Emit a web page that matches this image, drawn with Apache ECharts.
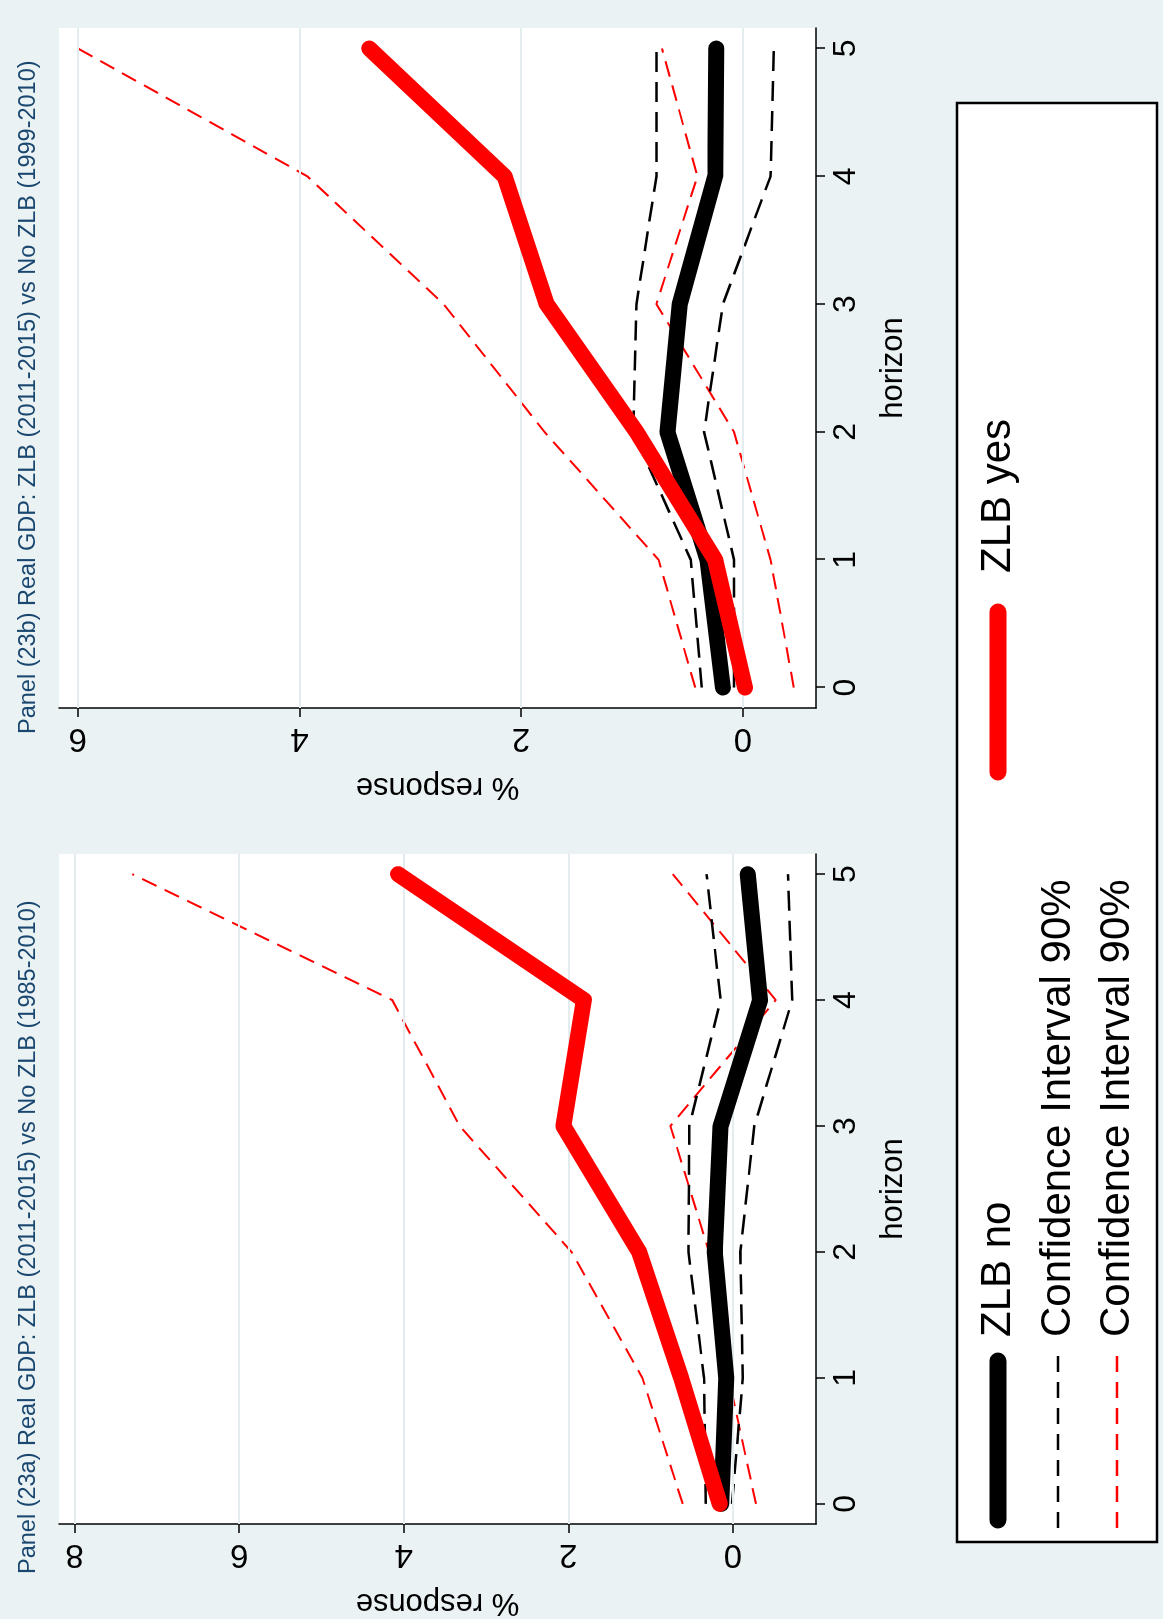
<!DOCTYPE html>
<html>
<head>
<meta charset="utf-8">
<script src="https://cdn.jsdelivr.net/npm/echarts@6/dist/echarts.min.js"></script>
<style>
  html, body { margin: 0; padding: 0; background: #eaf2f3; overflow: hidden; }
  #wrap { position: relative; width: 1163px; height: 1619px; }
  /* the chart is drawn landscape and turned a quarter turn counter-clockwise */
  #chart { position: absolute; left: 0; top: 0; width: 1619px; height: 1163px;
           transform-origin: 0 0; transform: translate(0, 1619px) rotate(-90deg); }
</style>
</head>
<body>
<div id="wrap"><div id="chart"></div></div>
<script>
// horizon
const horizon = [0, 1, 2, 3, 4, 5];

// Panel 23a: 1985-2010 sample
const aZlbYes  = [0.16, 0.63, 1.14, 2.06, 1.81, 4.07];
const aYesHigh = [0.61, 1.10, 1.96, 3.32, 4.14, 7.30];
const aYesLow  = [-0.28, 0.05, 0.29, 0.76, -0.52, 0.73];
const aZlbNo   = [0.14, 0.08, 0.22, 0.15, -0.33, -0.18];
const aNoHigh  = [0.33, 0.35, 0.54, 0.53, 0.15, 0.32];
const aNoLow   = [0.01, -0.12, -0.09, -0.26, -0.72, -0.67];

// Panel 23b: 1999-2010 sample
const bZlbYes  = [-0.02, 0.25, 0.96, 1.77, 2.15, 3.37];
const bYesHigh = [0.43, 0.76, 1.79, 2.70, 3.93, 6.00];
const bYesLow  = [-0.46, -0.25, 0.08, 0.78, 0.41, 0.73];
const bZlbNo   = [0.18, 0.32, 0.68, 0.57, 0.25, 0.24];
const bNoHigh  = [0.37, 0.47, 0.99, 0.96, 0.78, 0.78];
const bNoLow   = [0.08, 0.08, 0.35, 0.18, -0.25, -0.28];

const aTicks = [0, 2, 4, 6, 8];
const bTicks = [0, 2, 4, 6];
const xTicks = [0, 1, 2, 3, 4, 5];

const titleA = 'Panel (23a) Real GDP: ZLB (2011-2015) vs No ZLB (1985-2010)';
const titleB = 'Panel (23b) Real GDP: ZLB (2011-2015) vs No ZLB (1999-2010)';

const FONT = '"Liberation Sans", Arial, sans-serif';
const NARROW = '"Liberation Sans Narrow", "Arial Narrow", "Liberation Sans", sans-serif';

const pairs = arr => arr.map((v, i) => [horizon[i], v]);

const xAxisFor = (gi) => ({
    type: 'value', gridIndex: gi, min: -0.16, max: 5.16,
    name: 'horizon', nameLocation: 'middle', nameGap: 62,
    nameTextStyle: { fontSize: 31, color: '#000', fontFamily: FONT },
    axisLine: { onZero: false, lineStyle: { color: '#000', width: 1.5 } },
    axisTick: { show: true, length: 9, lineStyle: { color: '#000', width: 1.5 }, customValues: xTicks },
    axisLabel: { fontSize: 32, color: '#000', fontFamily: FONT, margin: 14, customValues: xTicks },
    splitLine: { show: false }
});

const yAxisFor = (gi, min, max, ticks) => ({
    type: 'value', gridIndex: gi, min: min, max: max,
    name: '% response', nameLocation: 'middle', nameGap: 63, nameRotate: 90,
    nameTextStyle: { fontSize: 31, color: '#000', fontFamily: FONT },
    axisLine: { show: true, onZero: false, lineStyle: { color: '#000', width: 1.5 } },
    axisTick: { show: true, length: 9, lineStyle: { color: '#000', width: 1.5 }, customValues: ticks },
    axisLabel: { fontSize: 33, color: '#000', fontFamily: FONT, rotate: 90, margin: 14, customValues: ticks },
    splitLine: { show: false }
});

// light grid lines drawn at the label values
const gridLines = (ticks) => ({
    silent: true, symbol: 'none', label: { show: false },
    lineStyle: { color: '#e3ecef', width: 2, type: 'solid' },
    data: ticks.map(t => ({ yAxis: t }))
});

const thick = (name, data, color, gi, marks) => ({
    name: name, type: 'line', xAxisIndex: gi, yAxisIndex: gi, data: pairs(data),
    symbol: 'none', z: 5,
    lineStyle: { color: color, width: 16, cap: 'round', join: 'round' },
    markLine: marks
});
const dashed = (data, color, gi, w, dash) => ({
    type: 'line', xAxisIndex: gi, yAxisIndex: gi, data: pairs(data), symbol: 'none', z: 3,
    lineStyle: { color: color, width: w, type: dash }
});

const chart = echarts.init(document.getElementById('chart'));

chart.setOption({
    backgroundColor: '#eaf2f3',
    animation: false,
    title: [
        { text: titleA, left: 40, top: 12, textStyle: { fontSize: 23.5, fontWeight: 'normal', color: '#1a476f', fontFamily: FONT } },
        { text: titleB, left: 880, top: 12, textStyle: { fontSize: 23.5, fontWeight: 'normal', color: '#1a476f', fontFamily: FONT } }
    ],
    grid: [
        { left: 86, top: 59, width: 679, height: 757, show: true, backgroundColor: '#fff', borderWidth: 0 },
        { left: 911, top: 59, width: 680, height: 757, show: true, backgroundColor: '#fff', borderWidth: 0 }
    ],
    xAxis: [xAxisFor(0), xAxisFor(1)],
    yAxis: [yAxisFor(0, -1.01, 8.19, aTicks), yAxisFor(1, -0.66, 6.17, bTicks)],
    series: [
        dashed(aYesHigh, '#ff0000', 0, 2, [16, 9]),
        dashed(aYesLow, '#ff0000', 0, 2, [16, 9]),
        dashed(aNoHigh, '#000', 0, 2.5, [20, 10]),
        dashed(aNoLow, '#000', 0, 2.5, [20, 10]),
        thick('ZLB no', aZlbNo, '#000', 0, gridLines(aTicks)),
        thick('ZLB yes', aZlbYes, '#ff0000', 0),
        dashed(bYesHigh, '#ff0000', 1, 2, [16, 9]),
        dashed(bYesLow, '#ff0000', 1, 2, [16, 9]),
        dashed(bNoHigh, '#000', 1, 2.5, [20, 10]),
        dashed(bNoLow, '#000', 1, 2.5, [20, 10]),
        thick('ZLB no', bZlbNo, '#000', 1, gridLines(bTicks)),
        thick('ZLB yes', bZlbYes, '#ff0000', 1)
    ],
    // legend box laid out like the original
    graphic: [
        { type: 'rect', shape: { x: 77, y: 957, width: 1439, height: 200 },
          style: { fill: '#fff', stroke: '#000', lineWidth: 2.5 } },
        { type: 'line', shape: { x1: 99, y1: 998, x2: 258, y2: 998 },
          style: { stroke: '#000', lineWidth: 17, lineCap: 'round' } },
        { type: 'text', x: 282, y: 998, style: { text: 'ZLB no', fontSize: 42, fontFamily: NARROW, fill: '#000', verticalAlign: 'middle' } },
        { type: 'line', shape: { x1: 847, y1: 998, x2: 1007, y2: 998 },
          style: { stroke: '#ff0000', lineWidth: 17, lineCap: 'round' } },
        { type: 'text', x: 1046, y: 998, style: { text: 'ZLB yes', fontSize: 42, fontFamily: NARROW, fill: '#000', verticalAlign: 'middle' } },
        { type: 'line', shape: { x1: 91, y1: 1058, x2: 266, y2: 1058 },
          style: { stroke: '#000', lineWidth: 2.5, lineDash: [16, 10] } },
        { type: 'text', x: 282, y: 1058, style: { text: 'Confidence Interval 90%', fontSize: 42, fontFamily: NARROW, fill: '#000', verticalAlign: 'middle' } },
        { type: 'line', shape: { x1: 91, y1: 1117, x2: 266, y2: 1117 },
          style: { stroke: '#ff0000', lineWidth: 2.5, lineDash: [16, 10] } },
        { type: 'text', x: 282, y: 1117, style: { text: 'Confidence Interval 90%', fontSize: 42, fontFamily: NARROW, fill: '#000', verticalAlign: 'middle' } }
    ]
});
</script>
</body>
</html>
